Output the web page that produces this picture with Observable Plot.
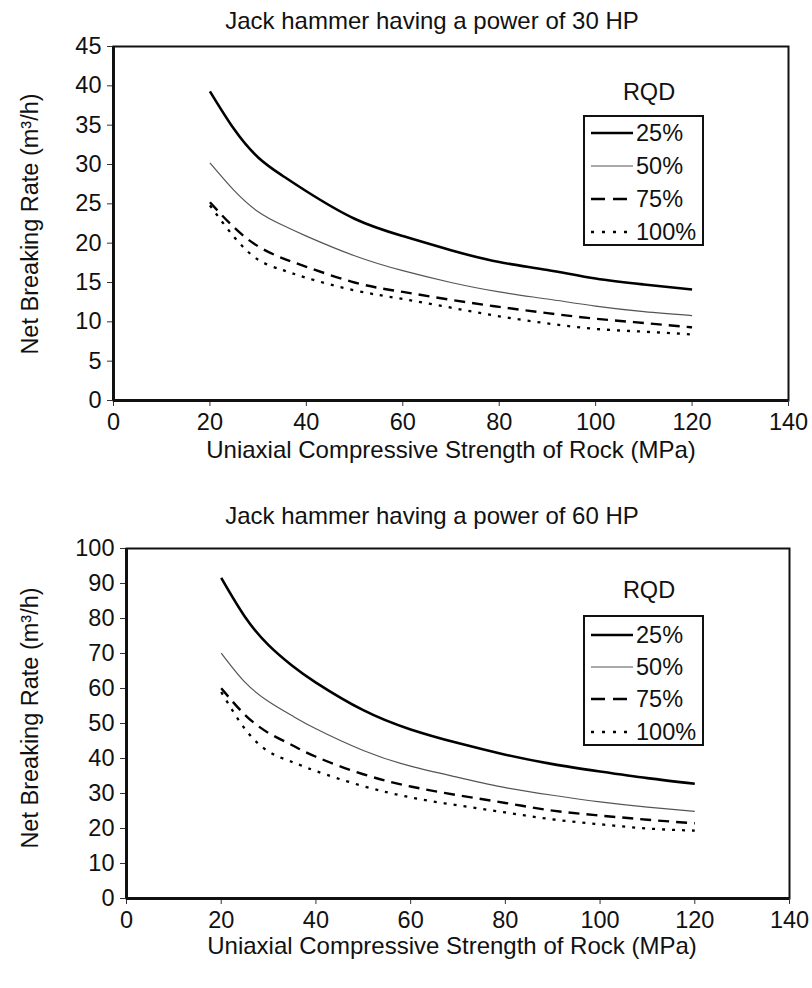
<!DOCTYPE html>
<html>
<head>
<meta charset="utf-8">
<script src="https://cdn.jsdelivr.net/npm/d3@7"></script>
<script src="https://cdn.jsdelivr.net/npm/@observablehq/plot@0.6"></script>
<style>
  html, body { margin: 0; padding: 0; background: #fff; }
  body { width: 812px; height: 988px; position: relative; overflow: hidden;
         font-family: "Liberation Sans", Arial, sans-serif; color: #111; }
  .abs { position: absolute; white-space: nowrap; }
  .title { font-size: 24px; transform: translate(-50%, -50%); }
  .ylab { font-size: 23.5px; transform: translate(-50%, -50%) rotate(-90deg); }
  .legend { position: absolute; border: 2px solid #111; box-sizing: border-box; background: #fff; }
  .legrow { position: absolute; left: 0; height: 30px; display: flex; align-items: center; font-size: 23.5px; }
  .legrow svg { margin-left: 6px; margin-right: 3px; }
  .rqd { font-size: 23.5px; transform: translate(-50%, -50%); }
</style>
</head>
<body>
<script>
// ---- data ----
const ucs = [20, 25, 30, 35, 40, 50, 60, 70, 80, 90, 100, 110, 120];
const rqdLabels = ["25%", "50%", "75%", "100%"];
const xTicks = [0, 20, 40, 60, 80, 100, 120, 140];
const yTicks30 = [0, 5, 10, 15, 20, 25, 30, 35, 40, 45];
const yTicks60 = [0, 10, 20, 30, 40, 50, 60, 70, 80, 90, 100];

const hp30_25  = [39.3, 34.5, 30.9, 28.6, 26.6, 23.1, 20.9, 19.1, 17.6, 16.6, 15.5, 14.75, 14.1];
const hp30_50  = [30.2, 26.7, 24.0, 22.3, 20.9, 18.4, 16.5, 15.0, 13.8, 12.9, 12.0, 11.3, 10.8];
const hp30_75  = [25.2, 22.0, 19.6, 18.1, 17.0, 15.0, 13.8, 12.8, 11.9, 11.1, 10.4, 9.85, 9.3];
const hp30_100 = [24.8, 20.8, 17.9, 16.6, 15.6, 14.0, 12.9, 11.8, 10.7, 9.8, 9.1, 8.75, 8.4];

const hp60_25  = [91.6, 80.5, 72.4, 66.5, 61.7, 53.8, 48.3, 44.4, 41.1, 38.4, 36.3, 34.4, 32.8];
const hp60_50  = [70.1, 61.8, 56.3, 52.2, 48.5, 42.3, 37.8, 34.6, 31.7, 29.5, 27.6, 26.1, 24.9];
const hp60_75  = [60.1, 52.5, 47.3, 43.8, 40.5, 35.5, 32.0, 29.5, 27.3, 25.1, 23.7, 22.5, 21.5];
const hp60_100 = [59.0, 48.5, 42.0, 39.0, 36.4, 32.1, 28.9, 26.6, 24.6, 22.6, 21.2, 20.0, 19.4];

const titles = ["Jack hammer having a power of 30 HP", "Jack hammer having a power of 60 HP"];
const xLabel = "Uniaxial Compressive Strength of Rock (MPa)";
const yLabel = "Net Breaking Rate (m³/h)";

// ---- styles ----
const seriesStyle = [
  {stroke: "#000", strokeWidth: 2.6, dash: null},
  {stroke: "#555", strokeWidth: 1.2, dash: null},
  {stroke: "#000", strokeWidth: 2.4, dash: "11,7"},
  {stroke: "#000", strokeWidth: 2.3, dash: "3,7"}
];

function makeRows(series) {
  const rows = [];
  series.forEach((vals, si) => vals.forEach((v, i) => rows.push({ucs: ucs[i], rate: v, rqd: rqdLabels[si]})));
  return rows;
}

function makeChart(cfg) {
  const rows = makeRows(cfg.series);
  const lines = rqdLabels.map((r, si) => Plot.line(rows.filter(d => d.rqd === r), {
    x: "ucs", y: "rate", curve: "natural",
    stroke: seriesStyle[si].stroke, strokeWidth: seriesStyle[si].strokeWidth,
    strokeDasharray: seriesStyle[si].dash, strokeLinecap: "butt"
  }));
  const svg = Plot.plot({
    width: 812, height: cfg.height,
    marginTop: cfg.mt, marginBottom: cfg.mb, marginLeft: cfg.ml, marginRight: cfg.mr,
    style: {fontFamily: "'Liberation Sans', Arial, sans-serif", fontSize: "23.5px", color: "#111", background: "transparent", overflow: "visible"},
    x: {domain: [0, 140]},
    y: {domain: cfg.ydomain},
    marks: [
      Plot.frame({stroke: "#111", strokeWidth: 2}),
      Plot.axisX({ticks: xTicks, tickSize: 6, tickPadding: 7, label: null, stroke: "#333", tickFormat: d => d}),
      Plot.axisY({ticks: cfg.yticks, tickSize: 6, tickPadding: 6, label: null, stroke: "#333", tickFormat: d => d}),
      Plot.ruleY([cfg.ydomain[0]], {stroke: "#111", strokeWidth: 3}),
      Plot.ruleX([0], {stroke: "#111", strokeWidth: 3}),
      ...lines
    ]
  });
  svg.style.position = "absolute";
  svg.style.left = "0px";
  svg.style.top = cfg.top + "px";
  document.body.appendChild(svg);
}

function addText(cls, text, x, y) {
  const d = document.createElement("div");
  d.className = "abs " + cls;
  d.textContent = text;
  d.style.left = x + "px";
  d.style.top = y + "px";
  document.body.appendChild(d);
}

function addLegend(left, top, width, height, rqdY, rowYs) {
  addText("rqd", "RQD", left + 66, rqdY);
  const box = document.createElement("div");
  box.className = "legend";
  box.style.left = left + "px"; box.style.top = top + "px";
  box.style.width = width + "px"; box.style.height = height + "px";
  document.body.appendChild(box);
  rqdLabels.forEach((lab, si) => {
    const row = document.createElement("div");
    row.className = "legrow";
    row.style.top = (rowYs[si] - top - 15 - 2) + "px";
    const s = seriesStyle[si];
    const sv = document.createElementNS("http://www.w3.org/2000/svg", "svg");
    sv.setAttribute("width", 42); sv.setAttribute("height", 10);
    const ln = document.createElementNS("http://www.w3.org/2000/svg", "line");
    ln.setAttribute("x1", 0); ln.setAttribute("x2", 42);
    ln.setAttribute("y1", 5); ln.setAttribute("y2", 5);
    ln.setAttribute("stroke", s.stroke);
    ln.setAttribute("stroke-width", s.strokeWidth);
    if (s.dash) ln.setAttribute("stroke-dasharray", si === 2 ? "14,8" : "3,8");
    sv.appendChild(ln);
    row.appendChild(sv);
    const t = document.createElement("span");
    t.textContent = lab;
    row.appendChild(t);
    box.appendChild(row);
  });
}

// top chart (30 HP)
makeChart({top: 0, height: 480, mt: 46, mb: 80, ml: 113, mr: 24, ydomain: [0, 45], yticks: yTicks30,
  series: [hp30_25, hp30_50, hp30_75, hp30_100]});
// bottom chart (60 HP)
makeChart({top: 500, height: 480, mt: 48, mb: 82, ml: 126, mr: 23, ydomain: [0, 100], yticks: yTicks60,
  series: [hp60_25, hp60_50, hp60_75, hp60_100]});

addText("title", titles[0], 432, 21);
addText("title", titles[1], 432, 516);
addText("title", xLabel, 451, 450);
addText("title", xLabel, 452, 946);
addText("ylab", yLabel, 30, 224);
addText("ylab", yLabel, 30, 718);

addLegend(583, 115, 121, 131, 92, [133, 166, 199, 232]);
addLegend(583, 615, 121, 131, 590, [635, 667, 699, 732]);
</script>
</body>
</html>
